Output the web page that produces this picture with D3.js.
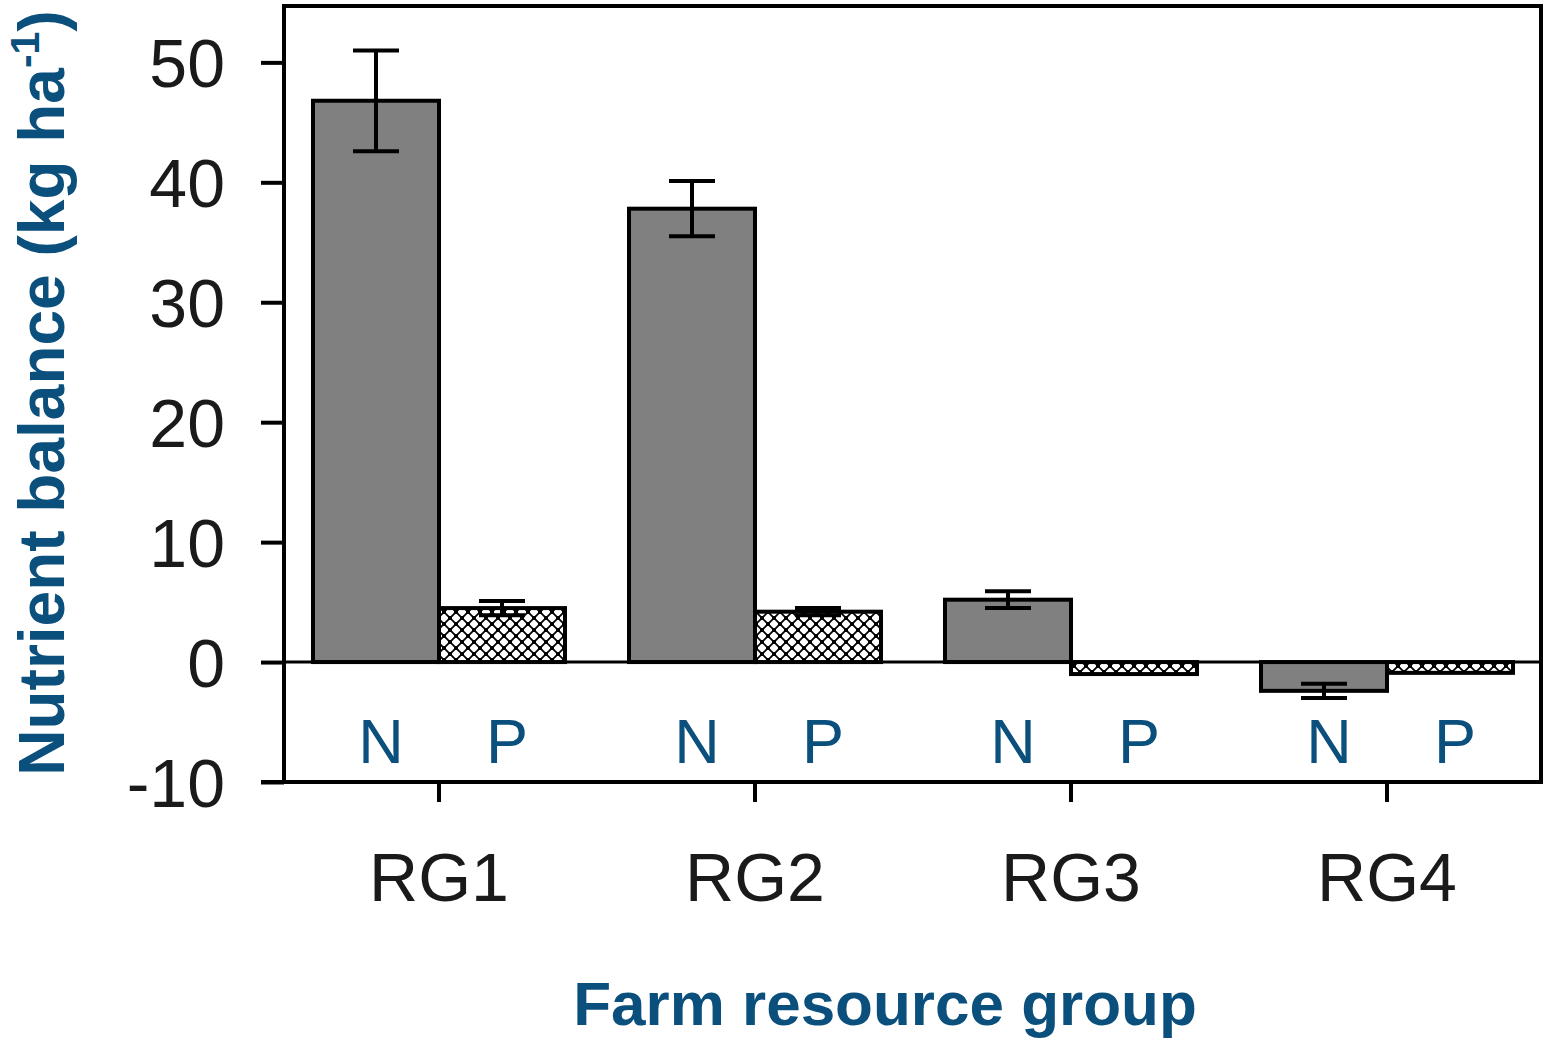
<!DOCTYPE html>
<html>
<head>
<meta charset="utf-8">
<script src="https://cdn.jsdelivr.net/npm/d3@7"></script>
<style>
  body { margin: 0; background: #fff; }
  svg { display: block; }
</style>
</head>
<body>
<script>
var svgWidth = 1547;
var svgHeight = 1038;

// data
var groups = ["RG1", "RG2", "RG3", "RG4"];
var nutrients = ["N", "P"];
var nValues = [46.8, 37.8, 5.2, -2.4];
var nErrors = [4.2, 2.3, 0.7, 0.6];
var pValues = [4.5, 4.2, -1.0, -0.9];
var pErrors = [0.6, 0.3, 0, 0];
var yTicks = [-10, 0, 10, 20, 30, 40, 50];

var blue = "#0b4f7c";
// note: "top" is a reserved window property, so use plot* names
var plotLeft = 284, plotRight = 1541, plotTop = 6, plotBottom = 782;

var rows = [];
groups.forEach(function (g, i) {
    rows.push({ group: g, nut: "N", value: nValues[i], err: nErrors[i] });
    rows.push({ group: g, nut: "P", value: pValues[i], err: pErrors[i] });
});

// group centres are not quite centred in the frame
var x = d3.scaleBand().domain(groups).range([281, 1545]).padding(0);
var barW = 126;
var xSub = d3.scaleBand().domain(nutrients)
    .range([x.bandwidth() / 2 - barW, x.bandwidth() / 2 + barW]);
var y = d3.scaleLinear().domain([-10, 54.7]).range([plotBottom, plotTop]);

var svg = d3.select("body").append("svg")
    .attr("width", svgWidth)
    .attr("height", svgHeight);

// hatch pattern for P bars
var defs = svg.append("defs");
var pat = defs.append("pattern")
    .attr("id", "checks")
    .attr("patternUnits", "userSpaceOnUse")
    .attr("width", 12).attr("height", 12);
pat.append("rect").attr("width", 12).attr("height", 12).attr("fill", "#fff");
pat.append("rect").attr("x", -2).attr("y", -2).attr("width", 4).attr("height", 4).attr("fill", "#000");
pat.append("rect").attr("x", 10).attr("y", 10).attr("width", 4).attr("height", 4).attr("fill", "#000");
pat.append("rect").attr("x", 10).attr("y", -2).attr("width", 4).attr("height", 4).attr("fill", "#000");
pat.append("rect").attr("x", -2).attr("y", 10).attr("width", 4).attr("height", 4).attr("fill", "#000");
pat.append("rect").attr("x", 4).attr("y", 4).attr("width", 4).attr("height", 4).attr("fill", "#000");
pat.append("path").attr("d", "M0,12 L12,0 M-3,3 L3,-3 M9,15 L15,9 M0,0 L12,12 M-3,9 L3,15 M9,-3 L15,3")
    .attr("stroke", "#000").attr("stroke-width", 1.8);

// bars
svg.selectAll("rect.bar")
    .data(rows)
    .enter()
    .append("rect")
    .attr("class", "bar")
    .attr("x", function (d) { return x(d.group) + xSub(d.nut); })
    .attr("y", function (d) { return y(Math.max(0, d.value)); })
    .attr("width", xSub.bandwidth())
    .attr("height", function (d) { return Math.abs(y(d.value) - y(0)); })
    .attr("fill", function (d) { return d.nut == "N" ? "#808080" : "url(#checks)"; })
    .attr("stroke", "#000")
    .attr("stroke-width", 4);

// error bars (only where an error is given)
var capW = 23;
var cx = function (d) { return x(d.group) + xSub(d.nut) + xSub.bandwidth() / 2; };
var eb = svg.selectAll("g.err")
    .data(rows.filter(function (d) { return d.err > 0; }))
    .enter()
    .append("g")
    .attr("class", "err")
    .attr("stroke", "#000")
    .attr("stroke-width", 4);
eb.append("line")
    .attr("x1", cx)
    .attr("x2", cx)
    .attr("y1", function (d) { return y(d.value + d.err); })
    .attr("y2", function (d) { return y(d.value - d.err); });
[1, -1].forEach(function (s) {
    eb.append("line")
        .attr("x1", function (d) { return cx(d) - capW; })
        .attr("x2", function (d) { return cx(d) + capW; })
        .attr("y1", function (d) { return y(d.value + s * d.err); })
        .attr("y2", function (d) { return y(d.value + s * d.err); });
});

// zero line
svg.append("line")
    .attr("x1", plotLeft).attr("x2", plotRight)
    .attr("y1", y(0)).attr("y2", y(0))
    .attr("stroke", "#000").attr("stroke-width", 3);

// frame
svg.append("rect")
    .attr("x", plotLeft).attr("y", plotTop)
    .attr("width", plotRight - plotLeft).attr("height", plotBottom - plotTop)
    .attr("fill", "none").attr("stroke", "#000").attr("stroke-width", 4);

// y axis
var yAxis = svg.append("g")
    .attr("transform", "translate(" + plotLeft + ",0)")
    .call(d3.axisLeft(y).tickValues(yTicks).tickSize(23).tickPadding(0)
        .tickFormat(function (d) { return String(d); }));
yAxis.select(".domain").remove();
yAxis.selectAll(".tick line").attr("stroke", "#000").attr("stroke-width", 4);
yAxis.selectAll(".tick text")
    .attr("x", -59)
    .attr("dy", "0.36em")
    .attr("font-family", "Liberation Sans, Arial, sans-serif")
    .attr("font-size", 68)
    .attr("fill", "#1a1a1a");

// x axis
var xAxis = svg.append("g")
    .attr("transform", "translate(0," + plotBottom + ")")
    .call(d3.axisBottom(x).tickSize(20).tickPadding(0));
xAxis.select(".domain").remove();
xAxis.selectAll(".tick line").attr("stroke", "#000").attr("stroke-width", 4);
xAxis.selectAll(".tick text")
    .attr("y", 119)
    .attr("dy", 0)
    .attr("font-family", "Liberation Sans, Arial, sans-serif")
    .attr("font-size", 68)
    .attr("fill", "#1a1a1a");

// extend bottom line left to the tick
svg.append("line")
    .attr("x1", 261).attr("x2", plotLeft)
    .attr("y1", plotBottom).attr("y2", plotBottom)
    .attr("stroke", "#000").attr("stroke-width", 4);

// N / P labels
svg.selectAll("text.nut")
    .data(rows)
    .enter()
    .append("text")
    .attr("class", "nut")
    .attr("x", function (d) { return cx(d) + 5; })
    .attr("y", 763)
    .attr("text-anchor", "middle")
    .attr("font-family", "Liberation Sans, Arial, sans-serif")
    .attr("font-size", 63)
    .attr("fill", blue)
    .text(function (d) { return d.nut; });

// axis titles
svg.append("text")
    .attr("x", 885)
    .attr("y", 1025)
    .attr("text-anchor", "middle")
    .attr("font-family", "Liberation Sans, Arial, sans-serif")
    .attr("font-weight", "bold")
    .attr("font-size", 62)
    .attr("fill", blue)
    .text("Farm resource group");

var yt = svg.append("text")
    .attr("transform", "translate(64,393) rotate(-90)")
    .attr("text-anchor", "middle")
    .attr("font-family", "Liberation Sans, Arial, sans-serif")
    .attr("font-weight", "bold")
    .attr("font-size", 64)
    .attr("fill", blue);
yt.append("tspan").text("Nutrient balance (kg ha");
yt.append("tspan").attr("font-size", 41).attr("dy", -25).text("-1");
yt.append("tspan").attr("dy", 25).text(")");
</script>
</body>
</html>
